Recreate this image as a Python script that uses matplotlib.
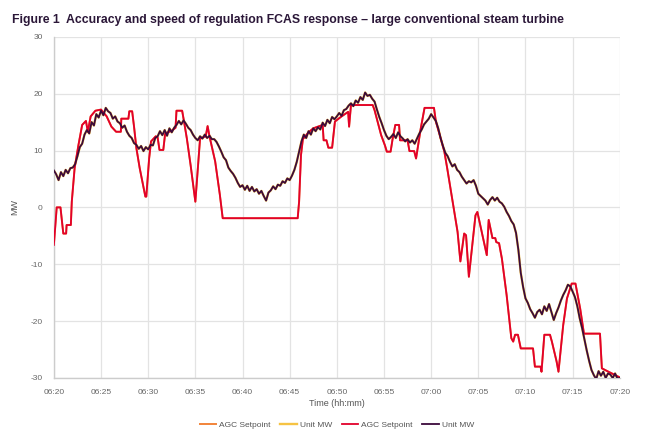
import matplotlib
matplotlib.use("Agg")
import matplotlib.pyplot as plt
import numpy as np

plt.rcParams["font.family"] = ["Liberation Sans", "DejaVu Sans"]
plt.rcParams["axes.unicode_minus"] = False

# minutes after 06:20
tick_minutes = [0, 5, 10, 15, 20, 25, 30, 35, 40, 45, 50, 55, 60]
tick_labels = ["06:20", "06:25", "06:30", "06:35", "06:40", "06:45", "06:50",
               "06:55", "07:00", "07:05", "07:10", "07:15", "07:20"]

# AGC setpoint (MW), read at its corners
setpoint_t = [0, 0.3, 0.7, 1.0, 1.3, 1.35, 1.8, 1.9, 2.2, 2.6, 3.0, 3.4, 3.6, 3.9,
              4.4, 5.0, 5.6, 6.1, 6.6, 7.1, 7.15, 7.9, 8.0, 8.3, 8.5, 8.75, 9.1,
              9.7, 9.8, 10.1, 10.3, 10.8, 11.0, 11.2, 11.6, 11.8, 12.5, 12.9, 13.0,
              13.6, 13.8, 14.1, 14.5, 15.0, 15.5, 16.1, 16.3, 16.5, 17.1, 17.6,
              17.9, 25.85, 26.0, 26.2, 26.4, 27.0, 27.5, 28.5, 28.6, 28.9, 29.1,
              29.5, 29.8, 30.5, 31.2, 31.3, 31.5, 33.8, 34.0, 34.7, 35.1, 35.3,
              35.7, 35.9, 36.2, 36.6, 36.7, 37.5, 37.7, 38.2, 38.4, 38.9, 39.3,
              40.3, 40.5, 40.9, 41.4, 41.7, 42.1, 42.4, 42.8, 43.1, 43.5, 43.7,
              44.0, 44.7, 44.9, 45.5, 45.9, 46.1, 46.5, 46.8, 46.9, 47.2, 47.5,
              48.0, 48.5, 48.7, 48.9, 49.2, 49.5, 50.8, 51.0, 51.6, 51.7, 52.0,
              52.6, 52.8, 53.3, 53.5, 54.0, 54.4, 54.9, 55.3, 55.8, 56.2, 57.9,
              58.1, 58.8, 60]
setpoint_mw = [-6.6, 0, 0, -4.6, -4.6, -3.1, -3.1, 1.0, 6.9, 10.9, 14.5, 15.2, 13.3,
               16.0, 17.0, 17.2, 16.0, 14.2, 13.3, 13.3, 15.6, 15.6, 16.9, 16.9,
               14.2, 10.4, 6.9, 1.9, 1.9, 8.6, 11.6, 12.5, 12.3, 10.1, 10.1, 13.0,
               13.5, 14.0, 17.0, 17.0, 15.1, 12.1, 7.4, 1.0, 12.1, 12.5, 14.3, 12.5,
               8.1, 2.2, -1.9, -1.9, 1.0, 9.2, 12.0, 13.2, 13.9, 14.5, 11.8, 11.8,
               10.5, 10.5, 15.1, 16.0, 16.8, 14.2, 18.0, 18.0, 17.1, 12.7, 10.9,
               9.8, 9.8, 11.9, 14.5, 14.5, 11.8, 11.8, 9.9, 9.9, 8.6, 13.9, 17.5,
               17.5, 15.1, 12.8, 9.8, 6.9, 2.8, -0.2, -4.3, -9.5, -4.6, -4.9, -12.2,
               -1.4, -0.8, -5.4, -8.4, -2.2, -5.4, -5.4, -6.1, -6.3, -9.0, -15.4,
               -23.0, -23.6, -22.4, -22.4, -24.8, -24.8, -28.0, -28.0, -28.9, -22.4,
               -22.4, -23.6, -27.1, -28.9, -20.7, -16.0, -13.4, -13.4, -17.8, -22.2,
               -22.2, -28.3, -28.9, -29.9]

# Unit MW, every 15 s
unit_t = np.arange(0, 60.01, 0.25)
unit_mw = [6.5, 5.8, 4.8, 6.2, 5.5, 6.6, 6.0, 6.9, 7.0, 7.6, 9.0, 10.6,
           11.2, 12.8, 13.6, 13.0, 15.0, 14.4, 16.4, 15.8, 17.0, 16.2, 17.5, 16.9,
           16.6, 15.6, 16.0, 15.1, 14.8, 14.0, 14.4, 13.3, 12.6, 12.2, 11.3, 11.0,
           10.3, 10.8, 9.9, 10.6, 10.2, 11.0, 10.9, 12.2, 12.5, 13.4, 12.7, 13.6,
           12.6, 13.9, 13.2, 14.0, 14.5, 15.2, 14.6, 15.3, 14.7, 14.0, 13.6, 12.8,
           12.2, 11.8, 12.5, 12.1, 12.8, 12.2, 12.6, 12.0, 12.0, 11.5, 10.7, 9.8,
           8.8, 8.3, 7.0, 6.4, 5.9, 5.2, 4.3, 3.6, 3.9, 3.1, 3.8, 2.9,
           3.6, 2.8, 3.2, 2.4, 2.9, 2.0, 1.2, 2.6, 3.0, 3.7, 3.2, 4.0,
           3.8, 4.6, 4.3, 5.1, 4.8, 5.6, 6.6, 8.0, 9.8, 11.6, 12.8, 12.2,
           13.4, 12.8, 13.9, 13.4, 14.1, 13.7, 14.9, 14.3, 15.4, 14.8, 15.9, 15.5,
           16.0, 16.6, 16.1, 17.1, 17.3, 17.9, 18.3, 17.8, 18.8, 18.4, 19.4, 18.9,
           20.2, 19.6, 19.8, 19.1, 18.6, 17.2, 15.9, 14.8, 13.6, 12.6, 12.0, 12.4,
           12.9, 12.2, 13.2, 12.5, 12.1, 11.6, 12.0, 11.4, 11.8, 11.2, 12.1, 13.0,
           13.7, 14.6, 15.1, 15.6, 16.4, 15.8, 15.2, 13.9, 12.2, 10.8, 9.6, 9.0,
           8.0, 7.2, 7.6, 6.6, 6.2, 5.4, 4.8, 4.2, 4.6, 4.4, 4.8, 3.8,
           2.4, 2.0, 1.6, 1.2, 0.5, 1.3, 1.8, 1.2, 1.7, 1.0, 0.7, 0.1,
           -0.8, -1.5, -2.4, -3.0, -4.5, -7.5, -11.5, -14.0, -16.0, -16.8, -17.9, -18.6,
           -19.4, -18.4, -18.0, -18.8, -17.4, -18.2, -17.0, -18.4, -19.8, -18.6, -17.6, -16.4,
           -15.4, -14.6, -13.6, -13.9, -14.8, -15.8, -17.4, -19.5, -21.2, -23.2, -25.2, -27.0,
           -28.6, -29.5, -30.2, -28.8, -29.6, -28.9, -30.0, -29.2, -29.4, -30.0, -29.2, -30.1,
           -30.0]

fig = plt.figure(figsize=(6.49, 4.38), dpi=100)
ax = fig.add_axes([0.083, 0.137, 0.872, 0.779])

# first pair sits under the second one
ax.plot(setpoint_t, setpoint_mw, color="#f2843a", lw=1.4, label="AGC Setpoint", zorder=2)
ax.plot(unit_t, unit_mw, color="#f6c343", lw=1.7, label="Unit MW", zorder=2)
ax.plot(setpoint_t, setpoint_mw, color="#e2002b", lw=1.3, label="AGC Setpoint", zorder=3)
ax.plot(unit_t, unit_mw, color="#3b0a3c", lw=1.3, label="Unit MW", zorder=4)

ax.set_xlim(0, 60)
ax.set_ylim(-30, 30)
ax.set_xticks(tick_minutes)
ax.set_xticklabels(tick_labels)
ax.set_yticks([-30, -20, -10, 0, 10, 20, 30])
ax.grid(True, color="#e3e3e3", lw=0.9)
ax.set_axisbelow(True)
for s in ["top", "right"]:
    ax.spines[s].set_visible(False)
for s in ["left", "bottom"]:
    ax.spines[s].set_color("#cccccc")
    ax.spines[s].set_linewidth(1.0)
ax.tick_params(length=0, labelsize=6, labelcolor="#666666", pad=8)
ax.set_xlabel("Time (hh:mm)", fontsize=6.5, color="#555555", labelpad=2)
ax.set_ylabel("MW", fontsize=6.5, color="#555555", labelpad=8)

fig.text(0.018, 0.955, "Figure 1  Accuracy and speed of regulation FCAS response \u2013 large conventional steam turbine",
         fontsize=8.8, fontweight="bold", color="#2b1738", va="center")

ax.legend(loc="upper center", bbox_to_anchor=(0.5, -0.105), ncol=4, frameon=False,
          fontsize=6, handlelength=2.0, handletextpad=0.3, columnspacing=1.2,
          labelcolor="#555555")

fig.savefig("out.png", dpi=100)
